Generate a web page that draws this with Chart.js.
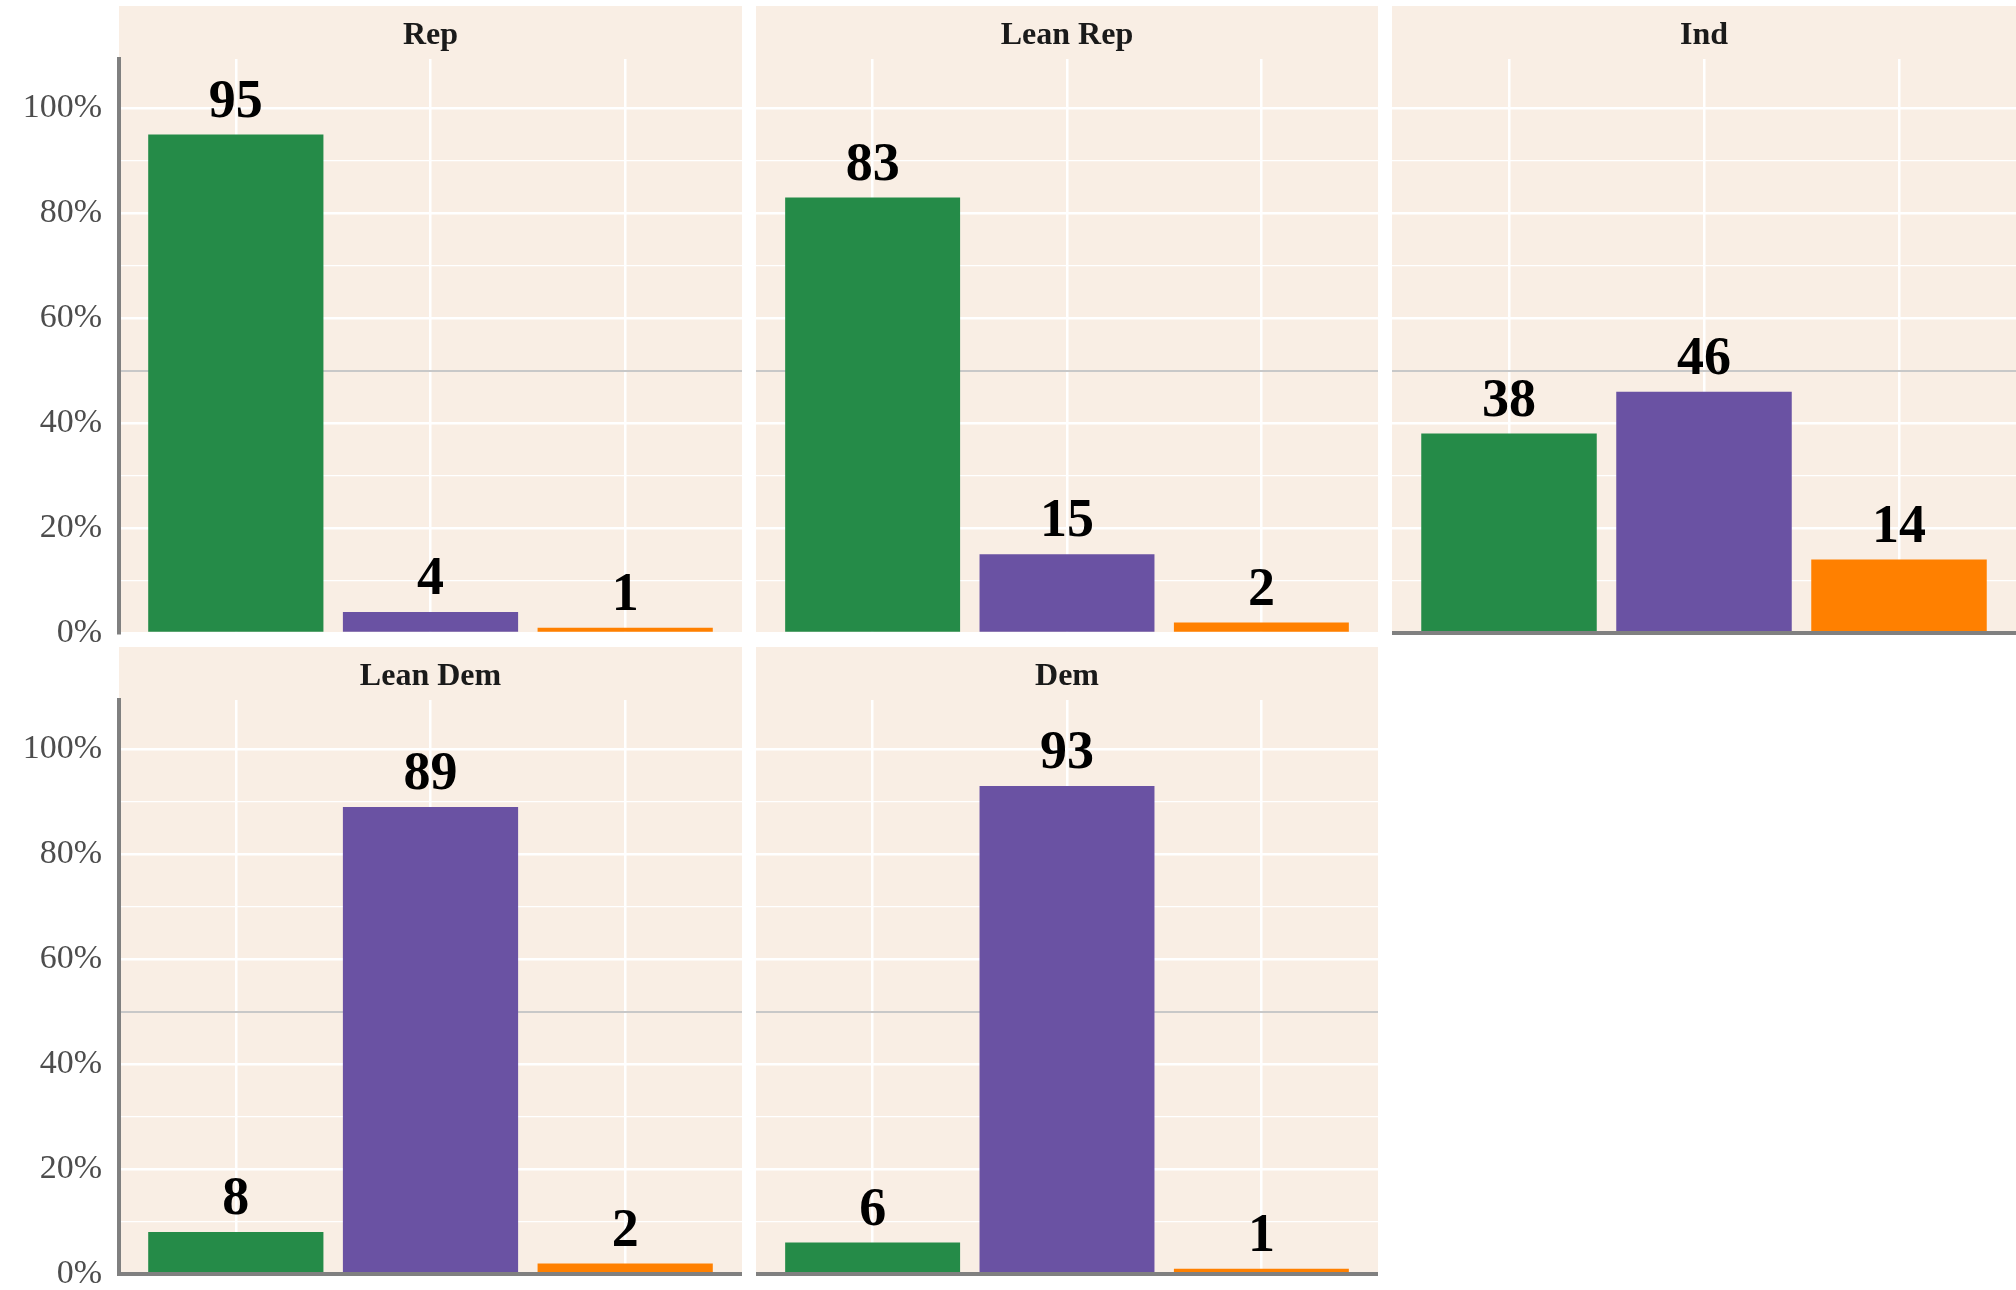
<!DOCTYPE html>
<html>
<head>
<meta charset="utf-8">
<script src="https://cdn.jsdelivr.net/npm/chart.js@4/dist/chart.umd.min.js"></script>
<style>
  html, body { margin: 0; padding: 0; background: #ffffff; }
  body { width: 2016px; height: 1290px; position: relative; overflow: hidden; }
  .panel { position: absolute; }
</style>
</head>
<body>
<div id="wrap"></div>
<script>
// party groups, one facet each
const groups = ['Rep', 'Lean Rep', 'Ind', 'Lean Dem', 'Dem'];
// share choosing each option, per group (%)
const repShare = [95, 83, 38, 8, 6];
const demShare = [4, 15, 46, 89, 93];
const otherShare = [1, 2, 14, 2, 1];
const barColors = ['#258b48', '#6a52a3', '#ff8000'];
const yTickLabels = [0, 20, 40, 60, 80, 100];
const refLine = 50;

const SERIF = '"Liberation Serif", "Times New Roman", serif';
const PANEL_BG = '#f9eee4';

// facet placement: left, top, width, show y axis, show bottom axis line
const layout = [
    { left: 0,    top: 6,   width: 742, yAxis: true,  xLine: false },
    { left: 756,  top: 6,   width: 622, yAxis: false, xLine: false },
    { left: 1392, top: 6,   width: 624, yAxis: false, xLine: true },
    { left: 0,    top: 647, width: 742, yAxis: true,  xLine: true },
    { left: 756,  top: 647, width: 622, yAxis: false, xLine: true }
];

const near = (a, b) => Math.abs(a - b) < 1e-6;

// scales keep a fixed size and don't push the plot area around
function fixScale(s, w, h) {
    if (w !== null) s.width = w;
    if (h !== null) s.height = h;
    s.paddingTop = 0;
    s.paddingBottom = 0;
    s.paddingLeft = 0;
    s.paddingRight = 0;
}

const panelBackground = {
    id: 'panelBackground',
    beforeDraw(chart) {
        const a = chart.chartArea;
        const ctx = chart.ctx;
        ctx.save();
        ctx.fillStyle = PANEL_BG;
        ctx.fillRect(a.left, 0, a.right - a.left, a.bottom + 1);
        ctx.restore();
    }
};

const valueLabels = {
    id: 'valueLabels',
    afterDatasetsDraw(chart) {
        const ctx = chart.ctx;
        const meta = chart.getDatasetMeta(0);
        const vals = chart.data.datasets[0].data;
        ctx.save();
        ctx.font = 'bold 54px ' + SERIF;
        ctx.fillStyle = '#000000';
        ctx.textAlign = 'center';
        ctx.textBaseline = 'alphabetic';
        meta.data.forEach((bar, i) => {
            ctx.fillText(String(Math.round(vals[i].y * 100)), bar.x, bar.y - 18);
        });
        ctx.restore();
    }
};

function makePanel(i) {
    const p = layout[i];
    const div = document.createElement('div');
    div.className = 'panel';
    div.style.left = p.left + 'px';
    div.style.top = p.top + 'px';
    const canvas = document.createElement('canvas');
    canvas.width = p.width;
    canvas.height = 650;
    div.appendChild(canvas);
    document.getElementById('wrap').appendChild(div);

    const values = [repShare[i], demShare[i], otherShare[i]];

    new Chart(canvas, {
        type: 'bar',
        data: {
            datasets: [{
                data: values.map((v, k) => ({ x: k + 1, y: v / 100 })),
                backgroundColor: barColors,
                borderWidth: 0,
                barPercentage: 0.9,
                categoryPercentage: 1
            }]
        },
        options: {
            responsive: false,
            animation: false,
            layout: { padding: 0 },
            plugins: {
                legend: { display: false },
                tooltip: { enabled: false },
                title: {
                    display: true,
                    text: groups[i],
                    fullSize: false,
                    color: '#1a1a1a',
                    font: { family: SERIF, size: 32, weight: 'bold', lineHeight: 1.2 },
                    padding: { top: 11, bottom: 3.6 }
                }
            },
            scales: {
                x: {
                    type: 'linear',
                    min: 0.4,
                    max: 3.6,
                    offset: false,
                    ticks: { display: false, stepSize: 1, includeBounds: false },
                    grid: { color: '#ffffff', lineWidth: 2.5, drawTicks: false, offset: false },
                    border: { display: p.xLine, color: '#808080', width: 4, z: 1 },
                    afterFit: s => fixScale(s, null, 23)
                },
                y: {
                    min: 0,
                    max: 1.094,
                    ticks: {
                        display: p.yAxis,
                        stepSize: 0.1,
                        includeBounds: false,
                        padding: 17,
                        color: '#4d4d4d',
                        font: { family: SERIF, size: 34 },
                        callback: v => {
                            const pct = Math.round(v * 100);
                            return yTickLabels.includes(pct) ? pct + '%' : '';
                        }
                    },
                    grid: {
                        drawTicks: false,
                        color: c => (c.tick && near(c.tick.value * 100, refLine)) ? '#c8c8c8' : '#ffffff',
                        lineWidth: c => {
                            if (!c.tick) return 1;
                            const pct = Math.round(c.tick.value * 100);
                            if (pct === refLine) return 2;
                            return yTickLabels.includes(pct) ? 2.4 : 1.2;
                        }
                    },
                    border: { display: p.yAxis, color: '#808080', width: 4 },
                    afterFit: s => fixScale(s, p.yAxis ? 119 : 0, null)
                }
            }
        },
        plugins: [panelBackground, valueLabels]
    });
}

groups.forEach((g, i) => makePanel(i));
</script>
</body>
</html>
